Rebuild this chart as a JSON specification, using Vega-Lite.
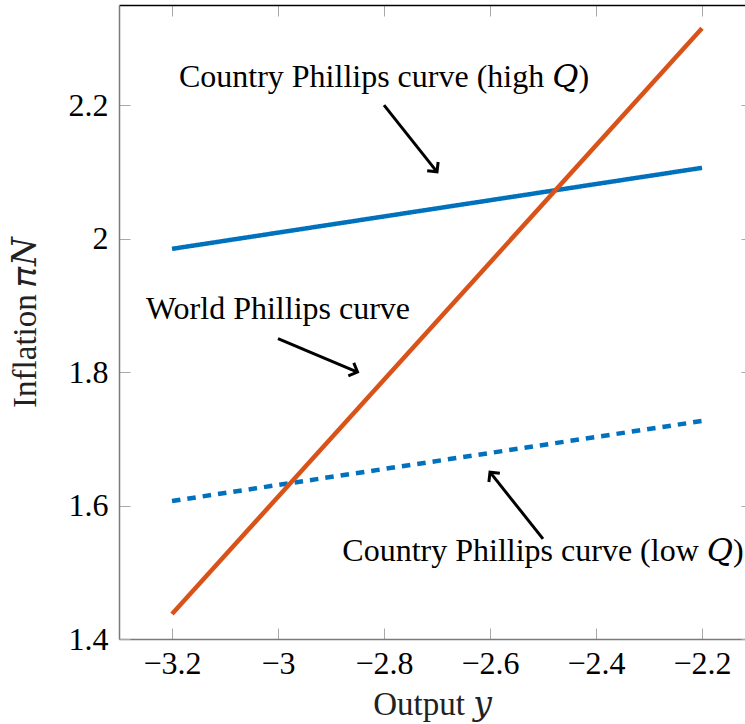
{
  "$schema": "https://vega.github.io/schema/vega-lite/v6.json",
  "width": 626,
  "height": 634,
  "autosize": "none",
  "padding": {"left": 119, "top": 5, "right": 0, "bottom": 85},
  "background": "white",
  "config": {
    "view": {"stroke": null},
    "font": "Liberation Serif, DejaVu Serif, serif",
    "axis": {
      "labelFont": "Liberation Serif",
      "titleFont": "Liberation Serif, DejaVu Serif, serif",
      "labelFontSize": 32,
      "titleFontSize": 33,
      "labelColor": "black",
      "titleColor": "#222222",
      "titleFontWeight": "normal",
      "grid": false,
      "labelOverlap": false,
      "labelFlush": false
    }
  },
  "datasets": {
    "curves": [
      {"curve": "world", "x": -3.2, "y": 1.4375},
      {"curve": "world", "x": -2.2, "y": 2.315},
      {"curve": "high", "x": -3.2, "y": 1.9846},
      {"curve": "high", "x": -2.2, "y": 2.106},
      {"curve": "low", "x": -3.2, "y": 1.6068},
      {"curve": "low", "x": -2.2, "y": 1.7267}
    ],
    "arrows": [
      {"id": "high", "x": -2.8, "y": 2.2, "x2": -2.7, "y2": 2.1},
      {"id": "world", "x": -3.0, "y": 1.85, "x2": -2.85, "y2": 1.8},
      {"id": "low", "x": -2.5, "y": 1.55, "x2": -2.6, "y2": 1.65}
    ],
    "labels": [
      {"x": -2.8, "y": 2.227, "text": "Country Phillips curve (high 𝑄)"},
      {"x": -3.0, "y": 1.8796, "text": "World Phillips curve"},
      {"x": -2.5, "y": 1.5168, "text": "Country Phillips curve (low 𝑄)"}
    ]
  },
  "layer": [
    {
      "data": {"name": "curves"},
      "transform": [{"filter": "datum.curve !== 'world'"}],
      "mark": {"type": "line", "strokeWidth": 4.5, "strokeCap": "butt"},
      "encoding": {
        "x": {"field": "x", "type": "quantitative",
          "scale": {"domain": [-3.3, -2.1189], "nice": false, "zero": false},
          "axis": {"orient": "bottom", "values": [-3.2, -3, -2.8, -2.6, -2.4, -2.2], "format": "~g",
            "title": "Output 𝑦", "tickSize": -11, "tickColor": "#a8a8a8", "tickWidth": 1,
            "domainColor": "#7a7a7a", "domainWidth": 1.5, "labelPadding": 20, "titlePadding": 9}},
        "y": {"field": "y", "type": "quantitative",
          "scale": {"domain": [1.4, 2.35], "nice": false, "zero": false},
          "axis": {"orient": "left", "values": [1.4, 1.6, 1.8, 2, 2.2], "format": "~g",
            "title": "Inflation 𝜋𝑁", "tickSize": -11, "tickColor": "#a8a8a8", "tickWidth": 1,
            "domainColor": "#7a7a7a", "domainWidth": 1.5, "labelPadding": 22, "titlePadding": 26}},
        "detail": {"field": "curve"},
        "strokeDash": {"field": "curve", "type": "nominal",
          "scale": {"domain": ["high", "low"], "range": [[1, 0], [8.5, 7]]}, "legend": null},
        "color": {"value": "#0072BD"}
      }
    },
    {
      "data": {"name": "curves"},
      "mark": {"type": "point", "opacity": 0},
      "encoding": {
        "x": {"field": "x", "type": "quantitative",
          "scale": {"domain": [-3.3, -2.1189], "nice": false, "zero": false},
          "axis": {"orient": "top", "values": [-3.2, -3, -2.8, -2.6, -2.4, -2.2], "labels": false, "title": null,
            "tickSize": -11, "tickColor": "#a8a8a8", "tickWidth": 1, "domainColor": "black", "domainWidth": 1.5}},
        "y": {"field": "y", "type": "quantitative",
          "scale": {"domain": [1.4, 2.35], "nice": false, "zero": false},
          "axis": {"orient": "right", "values": [1.4, 1.6, 1.8, 2, 2.2], "labels": false, "title": null,
            "tickSize": -4, "tickColor": "#a8a8a8", "tickWidth": 1, "domain": false}}
      }
    },
    {
      "data": {"name": "curves"},
      "transform": [{"filter": "datum.curve === 'world'"}],
      "mark": {"type": "line", "strokeWidth": 4.5, "strokeCap": "butt", "color": "#D95319"},
      "encoding": {
        "x": {"field": "x", "type": "quantitative", "scale": {"domain": [-3.3, -2.1189], "nice": false, "zero": false}, "axis": null},
        "y": {"field": "y", "type": "quantitative", "scale": {"domain": [1.4, 2.35], "nice": false, "zero": false}, "axis": null}
      }
    },
    {
      "data": {"name": "arrows"},
      "mark": {"type": "rule", "strokeWidth": 3, "color": "black"},
      "encoding": {
        "x": {"field": "x", "type": "quantitative", "scale": {"domain": [-3.3, -2.1189], "nice": false, "zero": false}, "axis": null},
        "y": {"field": "y", "type": "quantitative", "scale": {"domain": [1.4, 2.35], "nice": false, "zero": false}, "axis": null},
        "x2": {"field": "x2"},
        "y2": {"field": "y2"}
      }
    },
    {
      "data": {"name": "arrows"},
      "transform": [{"filter": "datum.id === 'high'"}],
      "mark": {"type": "point", "shape": "M -0.7 -0.7 L 0 0 L -0.7 0.7", "size": 400, "angle": 51.5, "filled": false, "stroke": "black", "strokeWidth": 3, "opacity": 1, "strokeJoin": "miter"},
      "encoding": {
        "x": {"field": "x2", "type": "quantitative", "scale": {"domain": [-3.3, -2.1189], "nice": false, "zero": false}, "axis": null},
        "y": {"field": "y2", "type": "quantitative", "scale": {"domain": [1.4, 2.35], "nice": false, "zero": false}, "axis": null}
      }
    },
    {
      "data": {"name": "arrows"},
      "transform": [{"filter": "datum.id === 'world'"}],
      "mark": {"type": "point", "shape": "M -0.7 -0.7 L 0 0 L -0.7 0.7", "size": 400, "angle": 22.8, "filled": false, "stroke": "black", "strokeWidth": 3, "opacity": 1, "strokeJoin": "miter"},
      "encoding": {
        "x": {"field": "x2", "type": "quantitative", "scale": {"domain": [-3.3, -2.1189], "nice": false, "zero": false}, "axis": null},
        "y": {"field": "y2", "type": "quantitative", "scale": {"domain": [1.4, 2.35], "nice": false, "zero": false}, "axis": null}
      }
    },
    {
      "data": {"name": "arrows"},
      "transform": [{"filter": "datum.id === 'low'"}],
      "mark": {"type": "point", "shape": "M -0.7 -0.7 L 0 0 L -0.7 0.7", "size": 400, "angle": 231.5, "filled": false, "stroke": "black", "strokeWidth": 3, "opacity": 1, "strokeJoin": "miter"},
      "encoding": {
        "x": {"field": "x2", "type": "quantitative", "scale": {"domain": [-3.3, -2.1189], "nice": false, "zero": false}, "axis": null},
        "y": {"field": "y2", "type": "quantitative", "scale": {"domain": [1.4, 2.35], "nice": false, "zero": false}, "axis": null}
      }
    },
    {
      "data": {"name": "labels"},
      "mark": {"type": "text", "font": "Liberation Serif, DejaVu Serif, serif", "fontSize": 32, "align": "center", "baseline": "alphabetic", "color": "black"},
      "encoding": {
        "x": {"field": "x", "type": "quantitative", "scale": {"domain": [-3.3, -2.1189], "nice": false, "zero": false}, "axis": null},
        "y": {"field": "y", "type": "quantitative", "scale": {"domain": [1.4, 2.35], "nice": false, "zero": false}, "axis": null},
        "text": {"field": "text"}
      }
    }
  ],
  "resolve": {"axis": {"x": "independent", "y": "independent"}}
}
